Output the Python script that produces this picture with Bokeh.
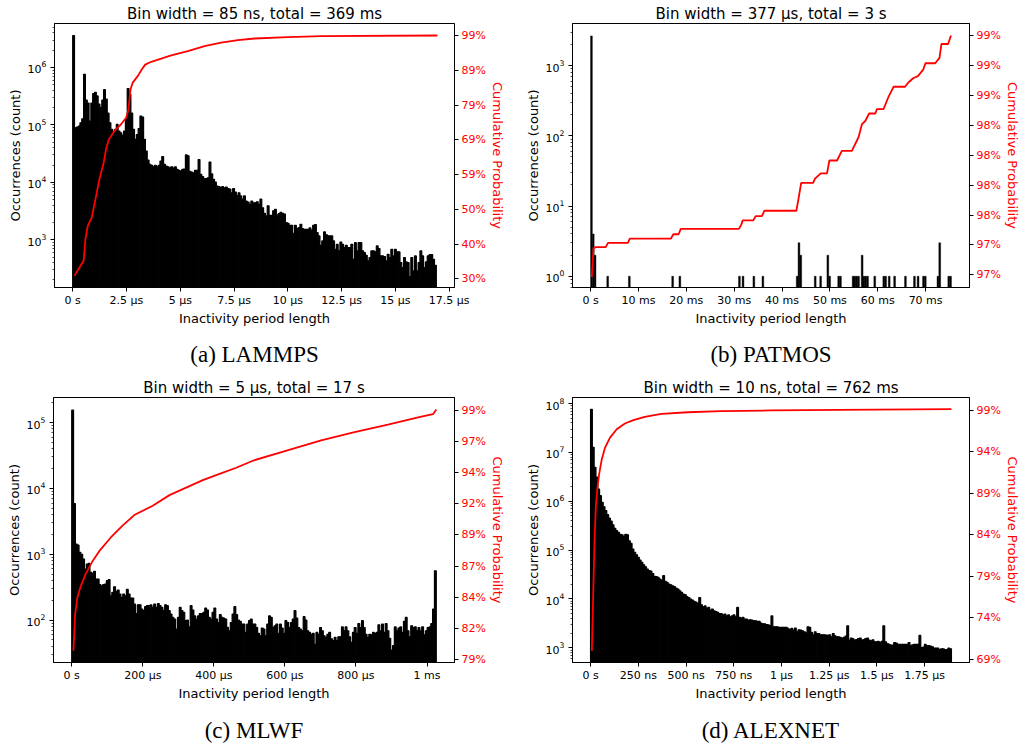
from bokeh.plotting import figure
from bokeh.layouts import column, row
from bokeh.models import Range1d, LinearScale, LinearAxis, FixedTicker, Title
from bokeh.embed import file_html
from bokeh.resources import INLINE

# ---------------- data ----------------
# (a) LAMMPS : 200 bins, bin width 0.0845 us
a_bin_width = 0.0845
a_counts = [
    3.6e6, 8.9e4, 9.2e4, 9.5e4, 1.09e5, 1.28e5, 7.6e5, 2.7e5, 2.4e5, 1.17e5,
    2.4e5, 3.5e5, 3.7e5, 3.2e5, 2.3e5, 2.0e5, 2.7e5, 4.1e5, 2.8e5, 1.6e5,
    1.09e5, 8.4e4, 7.3e4, 8.4e4, 1.02e5, 7.8e4, 7.3e4, 6.6e4, 7.8e4, 1.25e5,
    4.3e5, 3.4e5, 1.6e5, 8.4e4, 5.6e4, 6.8e4, 8.6e4, 1.43e5, 1.37e5, 5.6e4,
    3.5e4, 2.45e4, 2.06e4, 1.98e4, 1.87e4, 1.98e4, 1.87e4, 1.98e4, 2.35e4, 2.8e4,
    2.06e4, 1.92e4, 1.87e4, 1.78e4, 1.87e4, 1.78e4, 1.87e4, 1.68e4, 1.62e4, 1.57e4,
    1.68e4, 1.7e4, 3.0e4, 2.9e4, 1.56e4, 1.51e4, 1.47e4, 1.62e4, 1.62e4, 2.5e4,
    1.38e4, 1.26e4, 1.16e4, 1.16e4, 1.2e4, 2.26e4, 1.4e4, 1.13e4, 1.01e4, 8.6e3,
    8.4e3, 8.2e3, 8.4e3, 8.0e3, 8.3e3, 7.8e3, 7.6e3, 6.6e3, 7.8e3, 6.8e3,
    5.9e3, 6.6e3, 5.8e3, 5.1e3, 5.8e3, 4.7e3, 4.55e3, 4.15e3, 4.7e3, 4.4e3,
    4.4e3, 4.6e3, 4.15e3, 5.1e3, 3.6e3, 2.9e3, 2.6e3, 3.9e3, 2.67e3, 2.67e3,
    3.2e3, 3.4e3, 2.7e3, 2.85e3, 3.0e3, 2.9e3, 2.8e3, 2.0e3, 1.94e3, 1.79e3,
    1.79e3, 1.30e3, 1.79e3, 1.56e3, 1.63e3, 1.86e3, 1.56e3, 1.52e3, 1.52e3, 1.52e3,
    1.61e3, 1.48e3, 1.79e3, 1.84e3, 1.33e3, 1.17e3, 803, 955, 1.37e3, 1.23e3,
    1.17e3, 1.17e3, 1.17e3, 955, 684, 836, 640, 917, 836, 731,
    803, 731, 731, 836, 458, 893, 640, 893, 893, 640,
    598, 538, 429, 490, 640, 640, 615, 782, 703, 524,
    524, 510, 429, 560, 490, 684, 524, 684, 615, 615,
    401, 328, 490, 412, 401, 229, 490, 287, 524, 287,
    401, 640, 524, 328, 412, 524, 552, 552, 458, 360,
]
a_cum_x = [0.08, 0.51, 0.59, 0.70, 0.885, 1.09, 1.24, 1.44, 1.55, 1.68, 1.94, 2.25,
           2.49, 2.59, 2.69, 2.79, 3.03, 3.21, 3.37, 3.65, 4.58, 5.35, 6.13, 6.9,
           7.68, 8.46, 10.0, 11.56, 16.95]
a_cum_pct = [31.25, 35.5, 41.6, 45.4, 47.75, 53.9, 58.6, 63.3, 67.1, 69.9, 72.3, 74.2,
             76.1, 78.4, 84.1, 86.0, 87.9, 89.7, 91.1, 91.9, 93.7, 94.9, 96.35, 97.3,
             98.05, 98.5, 98.9, 99.15, 99.35]
a_cum_ticks = [30.4, 40.25, 50.1, 59.95, 69.8, 79.65, 89.5, 99.35]
a_cum_labels = ["30%", "40%", "50%", "59%", "69%", "79%", "89%", "99%"]
a_xticks = [0, 2.5, 5, 7.5, 10, 12.5, 15, 17.5]
a_xlabels = ["0 s", "2.5 µs", "5 µs", "7.5 µs", "10 µs", "12.5 µs", "15 µs", "17.5 µs"]

# (b) PATMOS : 200 bins, bin width 0.377 ms (only non-empty bins listed)
b_bin_width = 0.377
b_bins = [0, 1, 2, 9, 21, 45, 49, 82, 84, 90, 95, 114, 115, 116, 124, 127, 131, 132,
          137, 138, 145, 146, 147, 148, 150, 151, 152, 153, 157, 162, 163, 165, 168,
          174, 179, 181, 184, 185, 192, 193, 198, 199]
b_counts = [2650, 4, 2, 1, 1, 1, 1, 1, 1, 1, 1, 1, 3, 2, 1, 1, 2, 1,
            1, 1, 1, 1, 1, 1, 2, 1, 1, 1, 1, 1, 1, 1, 1,
            1, 1, 1, 1, 1, 1, 3, 1, 1]
b_cum_x = [0.27, 0.62, 1.1, 3.17, 3.65, 7.8, 8.2, 16.8, 17.3, 18.4, 18.85, 31.0, 31.5,
           31.8, 34.0, 34.5, 35.8, 36.3, 43.0, 43.4, 44.0, 46.5, 46.9, 48.1, 49.4, 49.9,
           51.5, 52.5, 54.6, 56.0, 56.7, 57.4, 58.2, 59.5, 59.8, 61.2, 62.2, 63.3, 65.7,
           66.4, 67.4, 68.4, 69.5, 69.96, 72.0, 72.9, 73.3, 74.7, 75.3]
b_cum_pct = [96.98, 97.25, 97.26, 97.26, 97.30, 97.30, 97.34, 97.34, 97.38, 97.38, 97.43,
             97.43, 97.47, 97.51, 97.51, 97.55, 97.55, 97.60, 97.60, 97.70, 97.86, 97.86,
             97.90, 97.95, 97.95, 98.07, 98.07, 98.16, 98.16, 98.29, 98.41, 98.44, 98.51,
             98.51, 98.55, 98.55, 98.66, 98.76, 98.76, 98.80, 98.84, 98.86, 98.92, 98.98,
             98.98, 99.03, 99.16, 99.16, 99.24]
b_cum_ticks = [97.0, 97.28, 97.56, 97.84, 98.12, 98.40, 98.68, 98.96, 99.24]
b_cum_labels = ["97%", "97%", "98%", "98%", "98%", "98%", "99%", "99%", "99%"]
b_xticks = [0, 10, 20, 30, 40, 50, 60, 70]
b_xlabels = ["0 s", "10 ms", "20 ms", "30 ms", "40 ms", "50 ms", "60 ms", "70 ms"]

# (c) MLWF : 200 bins, bin width 5.13 us
c_bin_width = 5.13
c_counts = [
    1.54e5, 5.9e3, 1.43e3, 1.38e3, 1.07e3, 1.0e3, 845, 597, 711, 725,
    531, 513, 549, 421, 421, 345, 333, 345, 353, 397,
    411, 234, 264, 321, 273, 286, 249, 221, 249, 234,
    293, 249, 216, 216, 175, 126, 171, 171, 147, 139,
    160, 166, 166, 170, 156, 175, 156, 179, 166, 156,
    139, 171, 166, 139, 124, 110, 104, 73, 110, 156,
    139, 131, 98, 100, 79, 166, 142, 116, 104, 116,
    126, 126, 131, 153, 142, 110, 104, 131, 153, 104,
    92, 121, 110, 107, 104, 78, 69, 92, 124, 160,
    121, 100, 96, 87, 87, 65, 87, 98, 104, 87,
    87, 77, 63, 58, 76, 73, 58, 87, 116, 110,
    77, 82, 87, 63, 87, 76, 63, 98, 92, 77,
    92, 104, 139, 107, 77, 73, 69, 113, 100, 69,
    65, 61, 63, 43, 65, 61, 77, 69, 58, 55,
    61, 65, 52, 49, 55, 49, 56, 56, 79, 69,
    79, 69, 56, 46, 65, 77, 63, 89, 77, 98,
    77, 61, 55, 61, 60, 65, 63, 65, 85, 69,
    87, 65, 89, 69, 53, 35, 41, 79, 69, 76,
    79, 65, 96, 110, 69, 56, 82, 77, 79, 69,
    77, 69, 79, 60, 69, 77, 79, 89, 147, 560,
]
c_cum_x = [4.8, 9.6, 16, 25.5, 39.7, 58.5, 77.4, 110, 143, 176, 228, 275, 322, 369,
           416, 463, 513, 607, 702, 796, 890, 984, 1017, 1026]
c_cum_pct = [80.1, 83.04, 84.4, 85.3, 86.3, 87.3, 88.1, 89.2, 90.15, 91.0, 91.75, 92.6,
             93.2, 93.8, 94.3, 94.8, 95.4, 96.2, 97.0, 97.65, 98.27, 98.9, 99.1, 99.47]
c_cum_ticks = [79.4, 81.9, 84.4, 86.9, 89.4, 91.9, 94.4, 96.9, 99.4]
c_cum_labels = ["79%", "82%", "84%", "87%", "89%", "92%", "94%", "97%", "99%"]
c_xticks = [0, 200, 400, 600, 800, 1000]
c_xlabels = ["0 s", "200 µs", "400 µs", "600 µs", "800 µs", "1 ms"]

# (d) ALEXNET : 200 bins, bin width 9.45 ns
d_bin_width = 9.45
d_counts = [
    7.6e7, 1.27e7, 4.95e6, 3.1e6, 1.78e6, 1.3e6, 9.5e5, 7.7e5, 6.4e5, 5.3e5,
    4.5e5, 3.9e5, 3.3e5, 2.8e5, 2.5e5, 2.3e5, 2.1e5, 2.05e5, 1.9e5, 2.1e5,
    2.05e5, 1.55e5, 1.37e5, 1.05e5, 9.0e4, 8.0e4, 7.1e4, 6.25e4, 5.6e4, 5.0e4,
    4.56e4, 4.1e4, 3.8e4, 3.7e4, 3.3e4, 2.9e4, 2.85e4, 2.75e4, 2.55e4, 2.43e4,
    2.99e4, 2.28e4, 2.18e4, 2.01e4, 1.95e4, 1.86e4, 1.78e4, 1.67e4, 1.59e4, 1.47e4,
    1.36e4, 1.26e4, 1.22e4, 1.11e4, 1.07e4, 9.9e3, 9.5e3, 8.9e3, 8.6e3, 8.1e3,
    1.07e4, 7.6e3, 6.9e3, 7.2e3, 6.5e3, 6.7e3, 5.9e3, 6.2e3, 5.7e3, 5.5e3,
    5.3e3, 5.0e3, 5.0e3, 4.7e3, 4.9e3, 4.5e3, 4.7e3, 4.3e3, 4.5e3, 4.7e3,
    4.3e3, 6.7e3, 4.2e3, 4.05e3, 4.2e3, 3.86e3, 3.86e3, 3.68e3, 3.74e3, 3.68e3,
    3.57e3, 3.57e3, 3.46e3, 3.46e3, 3.2e3, 3.1e3, 3.1e3, 3.0e3, 2.95e3, 2.85e3,
    4.5e3, 2.69e3, 2.69e3, 2.69e3, 2.61e3, 2.61e3, 2.61e3, 2.61e3, 2.61e3, 2.49e3,
    2.34e3, 2.49e3, 2.30e3, 2.53e3, 2.12e3, 2.34e3, 2.30e3, 2.23e3, 2.12e3, 2.03e3,
    2.69e3, 2.61e3, 2.06e3, 1.84e3, 2.12e3, 1.96e3, 1.96e3, 1.84e3, 1.84e3, 1.84e3,
    1.82e3, 1.79e3, 1.84e3, 1.68e3, 1.96e3, 1.76e3, 1.68e3, 1.68e3, 1.63e3, 1.58e3,
    1.63e3, 1.73e3, 2.82e3, 1.43e3, 1.58e3, 1.53e3, 1.43e3, 1.48e3, 1.55e3, 1.58e3,
    1.43e3, 1.48e3, 1.55e3, 1.58e3, 1.43e3, 1.39e3, 1.46e3, 1.33e3, 1.33e3, 1.35e3,
    1.30e3, 1.35e3, 2.82e3, 1.33e3, 1.22e3, 1.17e3, 1.13e3, 1.13e3, 1.28e3, 1.25e3,
    1.17e3, 1.17e3, 1.17e3, 1.17e3, 1.17e3, 1.17e3, 1.28e3, 1.10e3, 1.15e3, 1.17e3,
    1.17e3, 1.17e3, 1.79e3, 1.01e3, 1.03e3, 1.17e3, 1.10e3, 1.11e3, 1.08e3, 1.05e3,
    983, 983, 983, 922, 952, 952, 922, 908, 983, 952,
]
d_cum_x = [6.8, 13.5, 20.8, 27.6, 34.4, 45, 59, 76, 102, 137, 180, 224, 284, 371, 510,
           684, 944, 1300, 1890]
d_cum_pct = [70.3, 76.7, 83.6, 87.6, 89.6, 91.6, 93.4, 94.8, 96.0, 97.0, 97.7, 98.1,
             98.5, 98.85, 99.05, 99.2, 99.27, 99.35, 99.42]
d_cum_ticks = [69.3, 74.3, 79.3, 84.3, 89.3, 94.3, 99.3]
d_cum_labels = ["69%", "74%", "79%", "84%", "89%", "94%", "99%"]
d_xticks = [0, 250, 500, 750, 1000, 1250, 1500, 1750]
d_xlabels = ["0 s", "250 ns", "500 ns", "750 ns", "1 µs", "1.25 µs", "1.5 µs", "1.75 µs"]

FONT = "DejaVu Sans"


def panel(bins, counts, bw, nbins, cum_x, cum_pct, cum_ticks, cum_labels, cum_range,
          xticks, xlabels, y_exp, title, caption, width, height, borders, gap_font,
          bar_edge):
    span = nbins * bw
    x0, x1 = -0.05 * span, 1.05 * span
    ylo, yhi = 10 ** y_exp[0], 10 ** y_exp[1]
    p = figure(width=width, height=height, output_backend="svg", toolbar_location=None,
               x_range=Range1d(x0, x1), y_range=Range1d(ylo, yhi),
               y_axis_type="log",
               min_border_left=borders[0], min_border_right=borders[1],
               min_border_top=borders[2], min_border_bottom=borders[3])
    p.xgrid.visible = False
    p.ygrid.visible = False
    p.outline_line_color = "black"
    p.outline_line_alpha = 1.0
    p.outline_line_width = 1
    p.background_fill_color = "white"
    p.border_fill_color = "white"

    centers = [(i + 0.5) * bw for i in bins]
    p.vbar(x=centers, width=bw, top=counts, bottom=ylo,
           fill_color="black", line_color="black", line_width=bar_edge)

    p.extra_y_ranges = {"cum": Range1d(cum_range[0], cum_range[1])}
    p.extra_y_scales = {"cum": LinearScale()}
    p.line(cum_x, cum_pct, y_range_name="cum", line_color="red", line_width=1.8)

    # title
    p.title.text = title
    p.title.align = "center"
    p.title.text_font = FONT
    p.title.text_font_size = "15px"
    p.title.text_font_style = "normal"
    p.title.text_color = "black"
    p.title.standoff = 2

    # x axis
    xa = p.xaxis[0]
    xa.ticker = FixedTicker(ticks=xticks)
    xa.major_label_overrides = dict(zip(xticks, xlabels))
    xa.axis_label = "Inactivity period length"

    # left log axis
    ya = p.yaxis[0]
    lo_k = int(y_exp[0]) - 1
    hi_k = int(y_exp[1]) + 1
    majors = [10.0 ** k for k in range(lo_k, hi_k + 1)]
    minors = [m * 10.0 ** k for k in range(lo_k, hi_k + 1) for m in range(2, 10)]
    ya.ticker = FixedTicker(ticks=majors, minor_ticks=minors)
    ya.axis_label = "Occurrences (count)"

    ra = LinearAxis(y_range_name="cum", ticker=FixedTicker(ticks=cum_ticks, minor_ticks=[]),
                    major_label_overrides=dict(zip(cum_ticks, cum_labels)),
                    axis_label="Cumulative Probability")
    p.add_layout(ra, "right")

    for ax in (xa, ya, ra):
        ax.axis_line_color = "black"
        ax.axis_line_width = 1
        ax.major_tick_line_color = "black"
        ax.major_tick_line_width = 1
        ax.major_tick_in = 0
        ax.major_tick_out = 4
        ax.minor_tick_in = 0
        ax.minor_tick_out = 2
        ax.minor_tick_line_color = "black"
        ax.minor_tick_line_width = 0.7
        ax.major_label_text_font = FONT
        ax.major_label_text_font_size = "11px"
        ax.major_label_text_color = "black"
        ax.axis_label_text_font = FONT
        ax.axis_label_text_font_size = "13px"
        ax.axis_label_text_font_style = "normal"
        ax.axis_label_text_color = "black"
    xa.major_label_standoff = 2
    xa.axis_label_standoff = 1
    xa.minor_tick_out = 0
    ya.major_label_standoff = 4
    ya.axis_label_standoff = 2
    ra.major_label_standoff = 3
    ra.axis_label_standoff = 1
    ra.minor_tick_out = 0
    ra.major_label_text_color = "red"
    ra.axis_label_text_color = "red"

    # empty spacer between the axis label and the caption
    spacer = Title(text=" ", text_font_size=gap_font, standoff=0)
    p.add_layout(spacer, "below")
    cap = Title(text=caption, align="center", text_font="Liberation Serif",
                text_font_size="23px", text_font_style="normal", text_color="black",
                standoff=0)
    p.add_layout(cap, "below")
    return p


pa = panel(list(range(len(a_counts))), a_counts, a_bin_width, 200, a_cum_x, a_cum_pct,
           a_cum_ticks, a_cum_labels, (27.94, 102.75), a_xticks, a_xlabels, (2.17, 6.765),
           "Bin width = 85 ns, total = 369 ms", "(a) LAMMPS", 511, 370, (54, 57, 23, 83),
           "8px", 1.2)
pb = panel(b_bins, b_counts, b_bin_width, 200, b_cum_x, b_cum_pct,
           b_cum_ticks, b_cum_labels, (96.882, 99.352), b_xticks, b_xlabels, (-0.16, 3.60),
           "Bin width = 377 µs, total = 3 s", "(b) PATMOS", 511, 370, (61, 50, 23, 83),
           "8px", 0.4)
pc = panel(list(range(len(c_counts))), c_counts, c_bin_width, 200, c_cum_x, c_cum_pct,
           c_cum_ticks, c_cum_labels, (79.16, 100.44), c_xticks, c_xlabels, (1.357, 5.38),
           "Bin width = 5 µs, total = 17 s", "(c) MLWF", 511, 377, (53, 57, 27, 85),
           "9px", 1.2)
pd_ = panel(list(range(len(d_counts))), d_counts, d_bin_width, 200, d_cum_x, d_cum_pct,
            d_cum_ticks, d_cum_labels, (68.9, 100.83), d_xticks, d_xlabels, (2.699, 8.123),
            "Bin width = 10 ns, total = 762 ms", "(d) ALEXNET", 511, 377, (61, 50, 27, 85),
            "9px", 1.2)

layout = column(row(pa, pb), row(pc, pd_))
open("out.html", "w").write(file_html(layout, INLINE))
